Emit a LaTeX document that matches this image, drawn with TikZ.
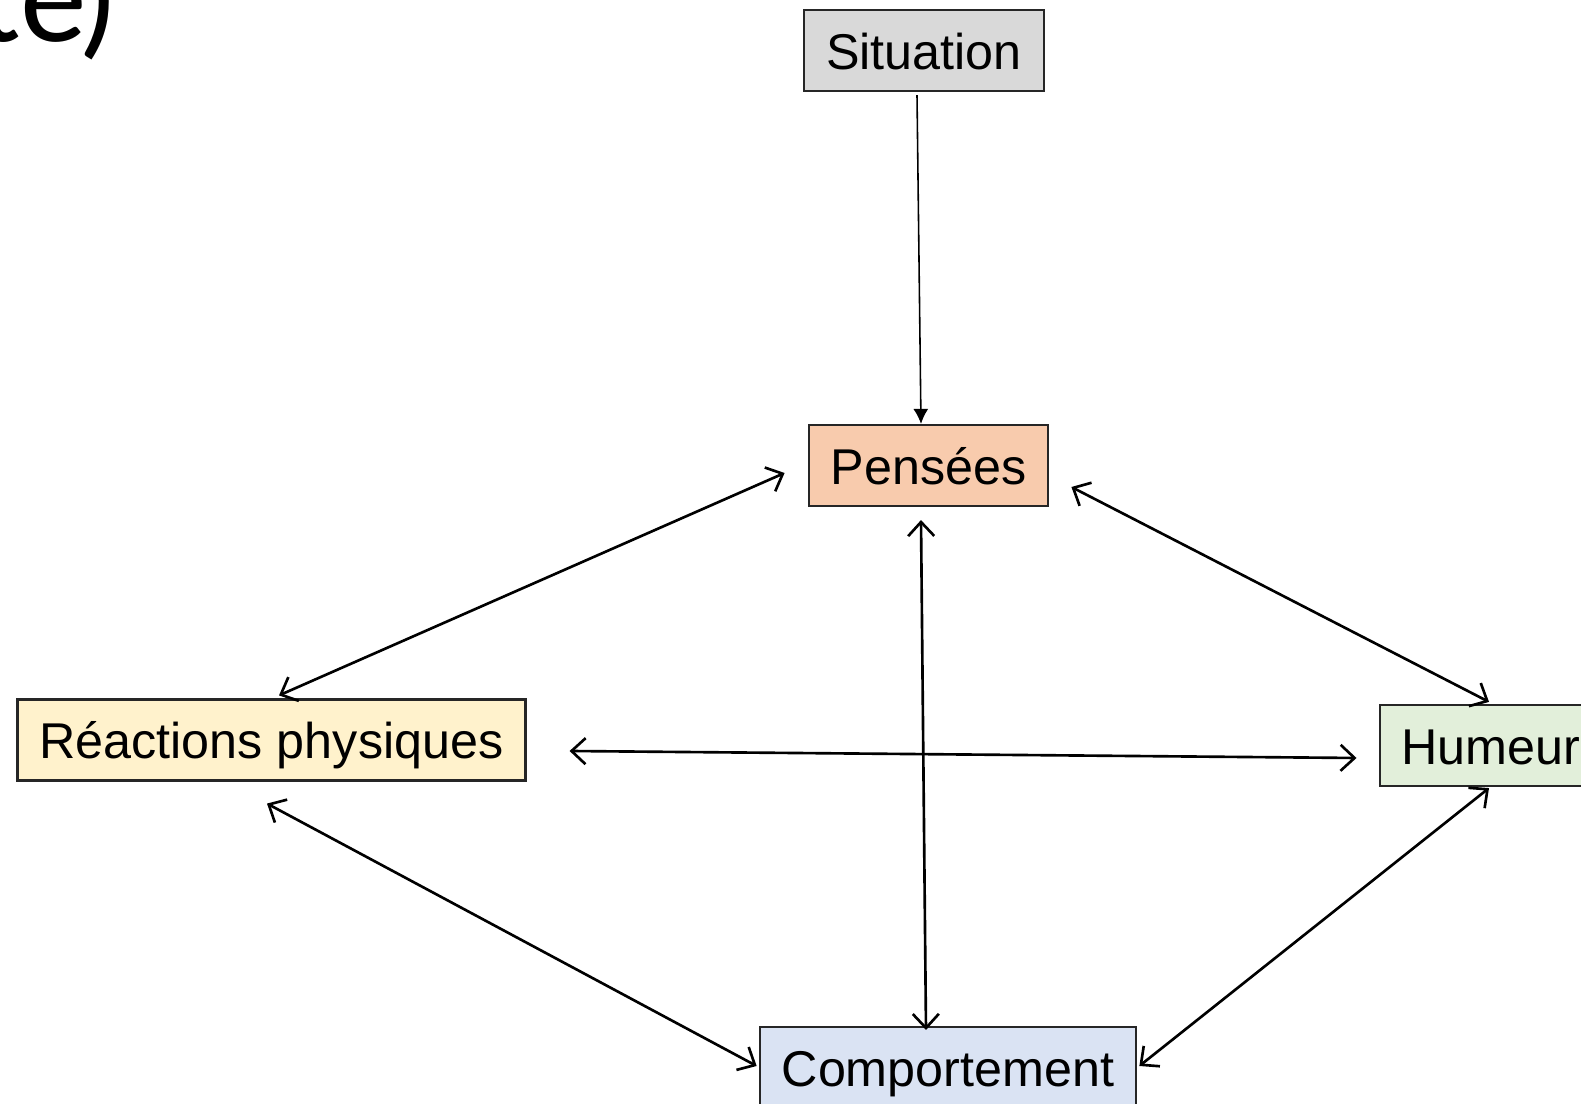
\documentclass[tikz,border=0pt]{standalone}
\usepackage{fontspec}
\setmainfont{Liberation Sans}
\newfontfamily\titlefont{Carlito}
\usetikzlibrary{arrows.meta,positioning,calc}
\definecolor{situationgray}{HTML}{D9D9D9}
\definecolor{penseesorange}{HTML}{F8CBAD}
\definecolor{reactionsyellow}{HTML}{FFF2CC}
\definecolor{humeurgreen}{HTML}{E2EFDA}
\definecolor{comportblue}{HTML}{DAE3F3}
\tikzset{
  box/.style={
    draw=black!85,
    line width=0.6pt,
    inner xsep=0.22cm,
    inner ysep=0pt,
    minimum height=0.81cm,
    text height=14.4pt,
    text depth=3.6pt,
    font=\fontsize{14.3}{17}\selectfont
  },
  link/.style={
    {Straight Barb[length=1.4mm,width=2.6mm]}-{Straight Barb[length=1.4mm,width=2.6mm]},
    line width=0.75pt
  },
  trigger/.style={
    -{Latex[length=1.5mm,width=1.5mm]},
    line width=0.45pt
  }
}

\begin{document}
\begin{tikzpicture}[x=0.01cm, y=-0.01cm]
   \useasboundingbox (0,0) rectangle (1581,1104);
   \node[anchor=base west, inner sep=0pt, font=\titlefont\fontsize{38}{42}\selectfont] (title) at (-24,42) {te\kern-0.06em)};

   \node[box, fill=situationgray]   (sit)  at (924,50.5)   {Situation};
   \node[box, fill=penseesorange]   (pen)  at (928.5,465.5) {Pensées};
   \node[box, fill=reactionsyellow] (reac) at (271.5,740)  {Réactions physiques};
   \node[box, fill=humeurgreen]     (hum)  at (1491,745.5) {Humeur};
   \node[box, fill=comportblue]     (comp) at (948,1067.5) {Comportement};

\draw[trigger] ($(sit.south)+(-7,3)$) -- ($(pen.north)+(-7.5,0)$);
\draw[link] ($(pen.west)+(-23,7.5)$)   -- ($(reac.north)+(7.5,-3)$);
\draw[link] ($(pen.east)+(22,21.5)$)   -- ($(hum.north)+(-2,-2)$);
\draw[link] ($(pen.south)+(-7.5,13)$)  -- ($(comp.north)+(-22,4)$);
\draw[link] ($(reac.east)+(43,11)$)    -- ($(hum.west)+(-22,12.5)$);
\draw[link] ($(reac.south)+(-4.5,22)$) -- ($(comp.west)+(-2,-1.5)$);
\draw[link] ($(hum.south)+(-2,1)$)     -- ($(comp.east)+(2,-1.5)$);
\end{tikzpicture}
\end{document}
